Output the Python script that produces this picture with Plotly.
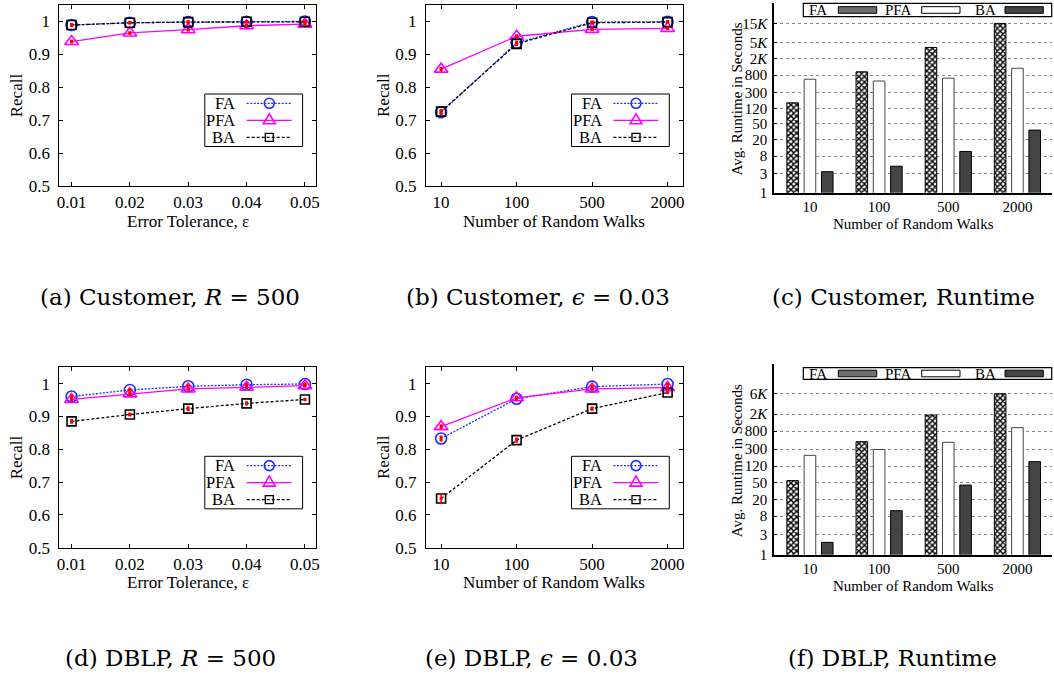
import plotly.graph_objects as go

W, H = 1054, 683
SERIF = "Liberation Serif"
CAP_FONT = "DejaVu Serif"

# ---------------- data ----------------
eps = [0.01, 0.02, 0.03, 0.04, 0.05]
eps_labels = ["0.01", "0.02", "0.03", "0.04", "0.05"]
walks = ["10", "100", "500", "2000"]
recall_ticks = [0.5, 0.6, 0.7, 0.8, 0.9, 1.0]
recall_labels = ["0.5", "0.6", "0.7", "0.8", "0.9", "1"]
series_names = ["FA", "PFA", "BA"]

# (a) Customer, R = 500
cust_eps_FA = [0.989, 0.996, 0.998, 0.999, 1.0]
cust_eps_PFA = [0.939, 0.965, 0.975, 0.987, 0.992]
cust_eps_BA = [0.989, 0.996, 0.998, 0.999, 0.999]
cust_eps_FA_err = [0.003, 0.002, 0.002, 0.002, 0.002]
cust_eps_PFA_err = [0.004, 0.003, 0.003, 0.003, 0.003]
cust_eps_BA_err = [0.003, 0.002, 0.002, 0.002, 0.002]

# (b) Customer, eps = 0.03
cust_walk_FA = [0.724, 0.935, 0.998, 0.999]
cust_walk_PFA = [0.855, 0.955, 0.976, 0.979]
cust_walk_BA = [0.726, 0.932, 0.996, 0.998]
cust_walk_FA_err = [0.006, 0.004, 0.002, 0.002]
cust_walk_PFA_err = [0.004, 0.004, 0.003, 0.003]
cust_walk_BA_err = [0.006, 0.005, 0.002, 0.002]

# (d) DBLP, R = 500
dblp_eps_FA = [0.961, 0.981, 0.992, 0.997, 0.999]
dblp_eps_PFA = [0.952, 0.969, 0.984, 0.989, 0.994]
dblp_eps_BA = [0.885, 0.906, 0.924, 0.940, 0.952]
dblp_eps_FA_err = [0.004, 0.003, 0.003, 0.002, 0.002]
dblp_eps_PFA_err = [0.004, 0.004, 0.003, 0.003, 0.003]
dblp_eps_BA_err = [0.005, 0.004, 0.005, 0.004, 0.003]

# (e) DBLP, eps = 0.03
dblp_walk_FA = [0.833, 0.954, 0.991, 0.999]
dblp_walk_PFA = [0.869, 0.957, 0.984, 0.988]
dblp_walk_BA = [0.650, 0.828, 0.924, 0.973]
dblp_walk_FA_err = [0.007, 0.004, 0.003, 0.002]
dblp_walk_PFA_err = [0.005, 0.004, 0.003, 0.003]
dblp_walk_BA_err = [0.012, 0.006, 0.004, 0.003]

# (c) Customer runtime (seconds)
cust_rt_FA = [165, 960, 3830, 15000]
cust_rt_PFA = [630, 570, 670, 1175]
cust_rt_BA = [3.3, 4.5, 10.4, 35]
cust_rt_ticks = [1, 3, 8, 20, 50, 120, 300, 800, 2000, 5000, 15000]
cust_rt_labels = ["1", "3", "8", "20", "50", "120", "300", "800",
                  "2<i>K</i>", "5<i>K</i>", "15<i>K</i>"]

# (f) DBLP runtime (seconds)
dblp_rt_FA = [55, 450, 1900, 6000]
dblp_rt_PFA = [215, 295, 435, 960]
dblp_rt_BA = [1.95, 10.8, 43, 153]
dblp_rt_ticks = [1, 3, 8, 20, 50, 120, 300, 800, 2000, 6000]
dblp_rt_labels = ["1", "3", "8", "20", "50", "120", "300", "800",
                  "2<i>K</i>", "6<i>K</i>"]

captions = ["(a) Customer, <i>R</i> = 500", "(b) Customer, <i>ϵ</i> = 0.03",
            "(c) Customer, Runtime", "(d) DBLP, <i>R</i> = 500",
            "(e) DBLP, <i>ϵ</i> = 0.03", "(f) DBLP, Runtime"]

# ---------------- layout geometry (pixels) ----------------
boxes = [
    (59.3, 5, 316, 186),       # a
    (426, 5, 682.7, 186),      # b
    (774, 3, 1052, 192.7),     # c
    (59.3, 367.3, 316, 547.7), # d
    (426, 367.3, 682.7, 547.7),# e
    (774, 364.3, 1052, 554.7), # f
]
caption_pos = [(170, 297), (538, 297), (903, 297), (170, 658), (531, 658), (892, 658)]


def px(x):
    return x / W


def py(y):
    return 1 - y / H


def note(text, x, y, size, family=SERIF, xanchor="center", angle=0):
    return dict(text=text, x=px(x), y=py(y), xref="paper", yref="paper",
                xanchor=xanchor, yanchor="middle", showarrow=False, textangle=angle,
                borderpad=0, font=dict(family=family, size=size, color="black"))


STYLE = {
    "FA": dict(color="#1f2bff", dash="2px,1.5px", symbol="circle-open", size=11),
    "PFA": dict(color="#ff00ff", dash="solid", symbol="triangle-up-open", size=12),
    "BA": dict(color="black", dash="3px,2px", symbol="square-open", size=9),
}

fig = go.Figure()
layout = dict(width=W, height=H, autosize=False,
              margin=dict(l=0, r=0, t=0, b=0, pad=0, autoexpand=False),
              paper_bgcolor="white", plot_bgcolor="white", showlegend=False,
              bargap=0.25, bargroupgap=0.33)
shapes = []
annotations = []

line_panels = [
    (0, eps, [cust_eps_FA, cust_eps_PFA, cust_eps_BA],
     [cust_eps_FA_err, cust_eps_PFA_err, cust_eps_BA_err], "Error Tolerance, ε"),
    (1, walks, [cust_walk_FA, cust_walk_PFA, cust_walk_BA],
     [cust_walk_FA_err, cust_walk_PFA_err, cust_walk_BA_err], "Number of Random Walks"),
    (3, eps, [dblp_eps_FA, dblp_eps_PFA, dblp_eps_BA],
     [dblp_eps_FA_err, dblp_eps_PFA_err, dblp_eps_BA_err], "Error Tolerance, ε"),
    (4, walks, [dblp_walk_FA, dblp_walk_PFA, dblp_walk_BA],
     [dblp_walk_FA_err, dblp_walk_PFA_err, dblp_walk_BA_err], "Number of Random Walks"),
]
bar_panels = [
    (2, [cust_rt_FA, cust_rt_PFA, cust_rt_BA], cust_rt_ticks, cust_rt_labels, 4.68),
    (5, [dblp_rt_FA, dblp_rt_PFA, dblp_rt_BA], dblp_rt_ticks, dblp_rt_labels, 4.47),
]


def axnames(i):
    s = "" if i == 0 else str(i + 1)
    return "x" + s, "y" + s, "xaxis" + s, "yaxis" + s


tickfont = dict(family=SERIF, size=17, color="black")

for idx, xs, ys_list, err_list, xtitle in line_panels:
    xr, yr, xk, yk = axnames(idx)
    x0, y0, x1, y1 = boxes[idx]
    for name, ys in zip(series_names, ys_list):
        st = STYLE[name]
        fig.add_trace(go.Scatter(
            x=xs, y=ys, xaxis=xr, yaxis=yr, mode="lines+markers", name=name,
            line=dict(color=st["color"], width=1.3, dash=st["dash"]),
            marker=dict(symbol=st["symbol"], size=st["size"], color=st["color"],
                        line=dict(color=st["color"], width=1.6))))
    for name, ys, er in zip(series_names, ys_list, err_list):
        fig.add_trace(go.Scatter(
            x=xs, y=ys, xaxis=xr, yaxis=yr, mode="markers", name=name + " err",
            marker=dict(symbol="square", size=3, color="red"),
            error_y=dict(type="data", array=er, color="red", thickness=1.5, width=1.5)))
    common = dict(showline=True, linecolor="black", linewidth=1, mirror="ticks",
                  ticks="inside", ticklen=4, tickcolor="black", showgrid=False,
                  zeroline=False, tickfont=tickfont, fixedrange=True, automargin=False)
    if xs is eps:
        xa = dict(common, type="linear", range=[0.0079, 0.0519], tickvals=eps,
                  ticktext=eps_labels)
    else:
        xa = dict(common, type="category", range=[-0.2, 3.2])
    layout[xk] = dict(xa, domain=[px(x0), px(x1)], anchor=yr, ticklabelstandoff=1)
    layout[yk] = dict(common, domain=[py(y1), py(y0)], anchor=xr, range=[0.5, 1.05],
                      tickvals=recall_ticks, ticktext=recall_labels, ticklabelstandoff=5)
    # axis titles
    annotations.append(note(xtitle, (x0 + x1) / 2, y1 + 35, 17))
    annotations.append(note("Recall", x0 - 42.5, (y0 + y1) / 2, 17, angle=-90))
    # legend box
    shapes.append(dict(type="rect", xref="paper", yref="paper",
                       x0=px(x0 + 145.5), x1=px(x0 + 243.3),
                       y0=py(y0 + 141.5), y1=py(y0 + 89),
                       line=dict(color="black", width=1), fillcolor="white", layer="above"))
    for k, name in enumerate(series_names):
        st = STYLE[name]
        ry = y0 + 98.3 + k * 17
        annotations.append(note(name, x0 + 177, ry, 16.5, xanchor="right"))
        shapes.append(dict(type="line", xref="paper", yref="paper",
                           x0=px(x0 + 187.4), x1=px(x0 + 232.4), y0=py(ry), y1=py(ry),
                           line=dict(color=st["color"], width=1.3,
                                     dash=st["dash"]), layer="above"))
        mx, my = px(x0 + 210), py(ry)
        if name == "FA":
            shapes.append(dict(type="circle", xref="paper", yref="paper",
                               xsizemode="pixel", ysizemode="pixel", xanchor=mx, yanchor=my,
                               x0=-5, x1=5, y0=-5, y1=5, fillcolor="rgba(0,0,0,0)",
                               line=dict(color=st["color"], width=1.6), layer="above"))
        elif name == "PFA":
            shapes.append(dict(type="path", xref="paper", yref="paper",
                               xsizemode="pixel", ysizemode="pixel", xanchor=mx, yanchor=my,
                               path="M -6,-3.5 L 6,-3.5 L 0,6.5 Z", fillcolor="rgba(0,0,0,0)",
                               line=dict(color=st["color"], width=1.6), layer="above"))
        else:
            shapes.append(dict(type="rect", xref="paper", yref="paper",
                               xsizemode="pixel", ysizemode="pixel", xanchor=mx, yanchor=my,
                               x0=-4, x1=4, y0=-4, y1=4, fillcolor="rgba(0,0,0,0)",
                               line=dict(color=st["color"], width=1.3), layer="above"))

BAR_STYLE = {
    "FA": dict(color="white", line=dict(color="black", width=1),
               pattern=dict(shape="x", fgcolor="black", bgcolor="white", size=4,
                            solidity=0.6, fillmode="replace")),
    "PFA": dict(color="white", line=dict(color="#444", width=1)),
    "BA": dict(color="#444444", line=dict(color="black", width=1)),
}
BAR_SWATCH = {"FA": "#6e6e6e", "PFA": "white", "BA": "#444444"}

for idx, vals_list, tv, tt, top in bar_panels:
    xr, yr, xk, yk = axnames(idx)
    x0, y0, x1, y1 = boxes[idx]
    for name, vals in zip(series_names, vals_list):
        fig.add_trace(go.Bar(x=walks, y=vals, xaxis=xr, yaxis=yr, name=name,
                             marker=BAR_STYLE[name]))
    layout[xk] = dict(domain=[px(x0), px(x1)], anchor=yr, type="category",
                      range=[-0.52, 3.5], showline=True, linecolor="black", linewidth=1.5,
                      ticks="", showgrid=False, zeroline=False, fixedrange=True,
                      automargin=False,
                      tickfont=dict(family=SERIF, size=15, color="black"),
                      ticklabelstandoff=0)
    layout[yk] = dict(domain=[py(y1), py(y0)], anchor=xr, type="log", range=[0, top],
                      tickvals=tv, ticktext=tt, showline=True, linecolor="black",
                      linewidth=1.5, ticks="inside", ticklen=3, tickcolor="black",
                      showgrid=True, gridcolor="#888888", griddash="dot", gridwidth=1,
                      zeroline=False, fixedrange=True, ticklabelstandoff=2,
                      automargin=False,
                      tickfont=dict(family=SERIF, size=15, color="black"))
    annotations.append(note("Number of Random Walks", (x0 + x1) / 2, y1 + 31, 15))
    annotations.append(note("Avg. Runtime in Seconds", x0 - 37.3, (y0 + y1) / 2 + 1, 15,
                            angle=-90))
    # legend
    if idx == 2:
        lt, lb = y0 + 0.3, y0 + 13.7
    else:
        lt, lb = y0 + 3.4, y0 + 15
    lc = (lt + lb) / 2
    shapes.append(dict(type="rect", xref="paper", yref="paper", x0=px(803.3), x1=px(1051.7),
                       y0=py(lb), y1=py(lt), line=dict(color="black", width=1.2),
                       fillcolor="white", layer="above"))
    text_cx = [817.5, 898.7, 985.5]
    sw = [(838.3, 876.7), (921.7, 960), (1005, 1043.3)]
    for k, name in enumerate(series_names):
        annotations.append(note(name, text_cx[k], lc, 15))
        shapes.append(dict(type="rect", xref="paper", yref="paper",
                           x0=px(sw[k][0]), x1=px(sw[k][1]), y0=py(lc + 3.3), y1=py(lc - 3.3),
                           fillcolor=BAR_SWATCH[name], line=dict(color="black", width=1),
                           layer="above"))

for text, (cx, cy) in zip(captions, caption_pos):
    annotations.append(note(text, cx, cy, 23, family=CAP_FONT))

layout["shapes"] = shapes
layout["annotations"] = annotations
fig.update_layout(**layout)
fig.write_html("out.html")
